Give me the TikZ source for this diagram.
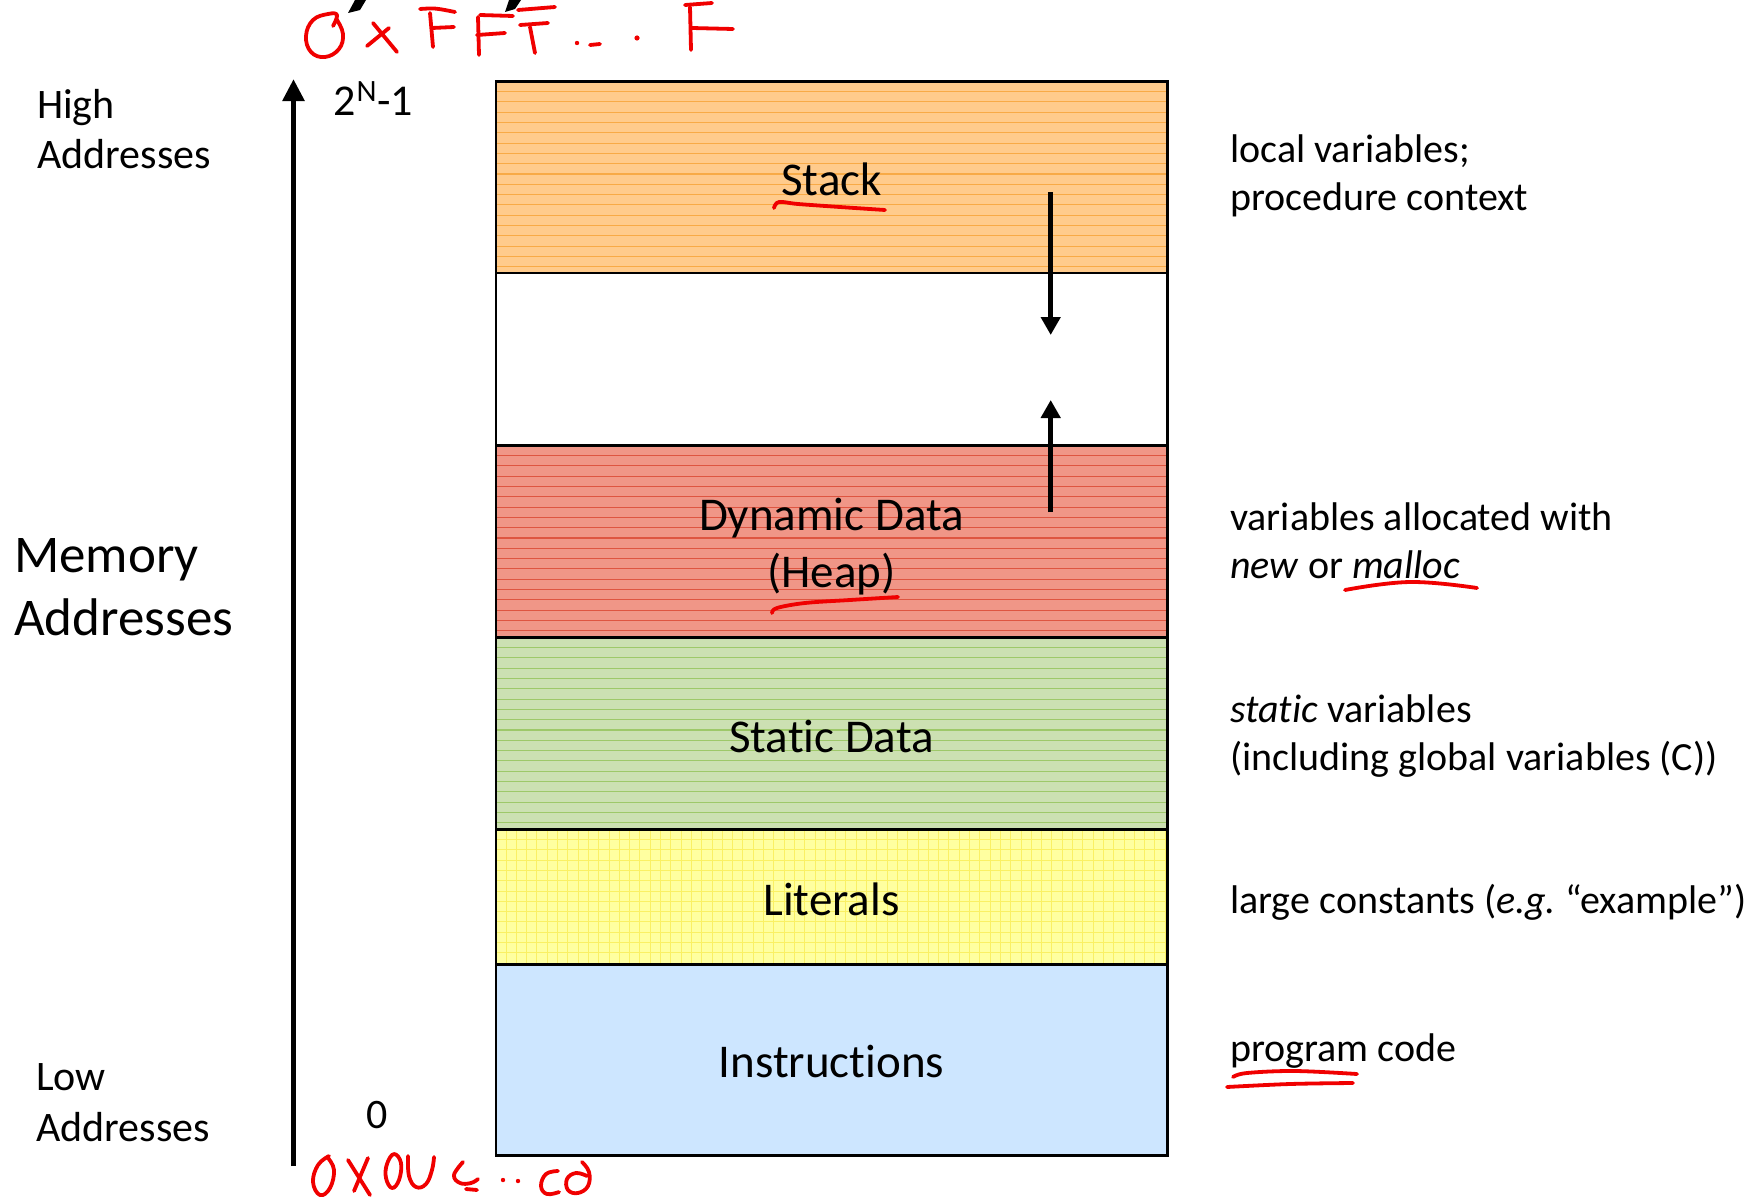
\documentclass[tikz,border=0pt]{standalone}
\usepackage{fontspec}
\setmainfont{Carlito}[Ligatures=NoCommon]
\usetikzlibrary{arrows.meta}
\frenchspacing

\definecolor{stackfill}{RGB}{255,203,140}
\definecolor{stackline}{RGB}{248,170,70}
\definecolor{heapfill}{RGB}{240,150,135}
\definecolor{heapline}{RGB}{222,85,65}
\definecolor{staticfill}{RGB}{204,224,178}
\definecolor{staticline}{RGB}{158,200,105}
\definecolor{litfill}{RGB}{255,255,160}
\definecolor{litline}{RGB}{250,240,100}
\definecolor{instrfill}{RGB}{205,230,255}
\definecolor{inkred}{RGB}{240,0,0}

\begin{document}
\begin{tikzpicture}[x=1pt,y=-1pt,
  seg/.style={draw=black, line width=2.5pt, minimum width=671.5pt, inner sep=0pt,
    anchor=north west},
  seglabel/.style={inner sep=0pt, align=center, font=\fontsize{47}{57}\selectfont},
  hlines/.style={path picture={
    \foreach \k in {1,...,19}
      \draw[#1, line width=1.1pt]
        ([yshift=-\k*10.3pt]path picture bounding box.north west) --
        ([yshift=-\k*10.3pt]path picture bounding box.north east);}},
  grid lines/.style={path picture={
    \foreach \k in {1,...,14}
      \draw[#1, line width=1pt]
        ([yshift=-\k*10.3pt]path picture bounding box.north west) --
        ([yshift=-\k*10.3pt]path picture bounding box.north east);
    \foreach \k in {1,...,66}
      \draw[#1, line width=1pt]
        ([xshift=\k*10.3pt]path picture bounding box.north west) --
        ([xshift=\k*10.3pt]path picture bounding box.south west);}},
  lefttext/.style={anchor=base west, inner sep=0pt, font=\fontsize{42}{50}\selectfont},
  bigtext/.style={anchor=base west, inner sep=0pt, font=\fontsize{53}{63}\selectfont},
  righttext/.style={anchor=base west, inner sep=0pt, font=\fontsize{40}{48}\selectfont},
  growarrow/.style={line width=4.6pt, -{Triangle[length=18pt,width=19pt]}},
  hand/.style={draw=inkred, line width=3.8pt, line cap=round, line join=round},
  handdot/.style={fill=inkred}
]
\useasboundingbox (0,0) rectangle (1758,1199);

% memory segments, top to bottom
\node[seg, fill=stackfill, hlines=stackline, minimum height=191.5pt] (stack) at (494.5,80) {};
\node[seg, fill=white, minimum height=172.5pt] (gap) at (494.5,271.5) {};
\node[seg, fill=heapfill, hlines=heapline, minimum height=192pt] (heap) at (494.5,444) {};
\node[seg, fill=staticfill, hlines=staticline, minimum height=192pt] (static) at (494.5,636) {};
\node[seg, fill=litfill, grid lines=litline, minimum height=135pt] (literals) at (494.5,828) {};
\node[seg, fill=instrfill, minimum height=191pt] (instr) at (494.5,963) {};

% segment names
\node[seglabel] (stacklabel) at ([yshift=-2pt]stack.center) {Stack};
\node[seglabel] (heaplabel) at ([yshift=-5pt]heap.center) {Dynamic Data\\(Heap)};
\node[seglabel] (staticlabel) at ([yshift=-3pt]static.center) {Static Data};
\node[seglabel] (literalslabel) at ([yshift=-2.5pt]literals.center) {Literals};
\node[seglabel] (instrlabel) at ([yshift=-2pt]instr.center) {Instructions};

% growth arrows of stack and heap
\coordinate (stackfrom) at (1050.7,192);
\coordinate (stackto) at (1050.7,335);
\coordinate (heapfrom) at (1050.7,512);
\coordinate (heapto) at (1050.7,400);
\draw[growarrow] (stackfrom) -- (stackto);
\draw[growarrow] (heapfrom) -- (heapto);

% address axis
\coordinate (axbot) at (293.5,1166);
\coordinate (axtop) at (293.5,79);
\draw[line width=5.8pt, -{Triangle[length=22pt,width=21pt]}] (axbot) -- (axtop);

% left labels
\node[lefttext] (high1) at (37,118) {High};
\node[lefttext] (high2) at (37,168) {Addresses};
\node[bigtext] (mem1) at (14,572) {Memory};
\node[bigtext] (mem2) at (14,635) {Addresses};
\node[lefttext] (low1) at (36,1090) {Low};
\node[lefttext] (low2) at (36,1141) {Addresses};
\node[lefttext, font=\fontsize{44}{50}\selectfont] (maxaddr) at (333,115)
  {2\kern1pt\raisebox{14pt}{\fontsize{31}{32}\selectfont N}\kern1pt-1};
\node[lefttext] (minaddr) at (366,1128) {0};

% right descriptions
\node[righttext] (d1a) at (1230,162) {local variables;};
\node[righttext] (d1b) at (1230,210) {procedure context};
\node[righttext] (d2a) at (1230,530) {variables allocated with};
\node[righttext] (d2b) at (1230,578) {\textit{new} or \textit{malloc}};
\node[righttext] (d3a) at (1230,722) {\textit{static} variables};
\node[righttext] (d3b) at (1230,770) {(including global variables (C))};
\node[righttext] (d4) at (1230,913) {large constants (\textit{e.g.} “example”)};
\node[righttext] (d5) at (1230,1061) {program code};

% clipped fragments of a heading above
\fill (355,0) -- (366,0) -- (360,10) -- (348,13) -- cycle;
\fill (509,0) -- (521,0) -- (515,9) -- (505,12) -- cycle;

% red ink: underlines
\draw[hand] plot[smooth, tension=0.6] coordinates {(774,208) (779,202) (798,204) (840,207) (885,210)};
\draw[hand] plot[smooth, tension=0.6] coordinates {(772,613) (777,608) (805,603) (850,600) (898,597)};
\draw[hand] plot[smooth, tension=0.7] coordinates {(1345,590) (1410,582) (1477,588)};
\draw[hand] plot[smooth, tension=0.6] coordinates {(1233,1077) (1247,1073) (1295,1071) (1357,1074)};
\draw[hand] plot[smooth, tension=0.6] coordinates {(1227,1087) (1290,1084) (1353,1083)};

% red ink: 0xFFF...F
\draw[hand] plot[smooth, tension=0.7] coordinates {(333,26) (337,15) (328,14) (313,20) (306,36) (311,52) (325,57) (339,49) (343,34) (337,20)};
\draw[hand] (373,23) -- (397,52);
\draw[hand] (367,46) -- (389,28);
\draw[hand] (420,9) .. controls (435,8) .. (455,12);
\draw[hand] (430,13) -- (433,47);
\draw[hand] (432,28) -- (454,27);
\draw[hand] (480,15) -- (513,16);
\draw[hand] (478,17) -- (479,55);
\draw[hand] (477,35) -- (505,33);
\draw[hand] (518,10) -- (555,7);
\draw[hand] (520,25) -- (548,23);
\draw[hand] (530,27) -- (535,53);
\fill[handdot] (577,43) circle (2.2pt);
\draw[hand] (590,45) -- (600,44);
\fill[handdot] (637,38) circle (2.6pt);
\draw[hand] (685,5) -- (712,3);
\draw[hand] (690,7) -- (691,50);
\draw[hand] (692,28) -- (733,29);

% red ink: 0x00c..c0
\draw[hand] plot[smooth, tension=0.7] coordinates {(329,1156) (318,1165) (313,1182) (320,1195) (330,1188) (334,1170) (328,1158)};
\draw[hand] (348,1160) -- (370,1195);
\draw[hand] (368,1158) -- (354,1191);
\draw[hand] plot[smooth cycle, tension=0.7] coordinates {(394,1154) (387,1164) (386,1178) (392,1188) (399,1180) (401,1163)};
\draw[hand] plot[smooth, tension=0.7] coordinates {(408,1156) (409,1176) (416,1187) (426,1184) (432,1170) (434,1157)};
\draw[hand] plot[smooth, tension=0.7] coordinates {(463,1162) (454,1175) (460,1183) (471,1183) (478,1179)};
\draw[hand] (466,1189) -- (477,1190);
\fill[handdot] (503,1180) circle (2.2pt);
\fill[handdot] (518,1181) circle (2.2pt);
\draw[hand] plot[smooth, tension=0.7] coordinates {(558,1171) (546,1174) (541,1186) (547,1194) (559,1192)};
\draw[hand] plot[smooth, tension=0.7] coordinates {(582,1162) (589,1172) (588,1186) (578,1193) (568,1190) (567,1179) (576,1173) (587,1176)};
\end{tikzpicture}
\end{document}
